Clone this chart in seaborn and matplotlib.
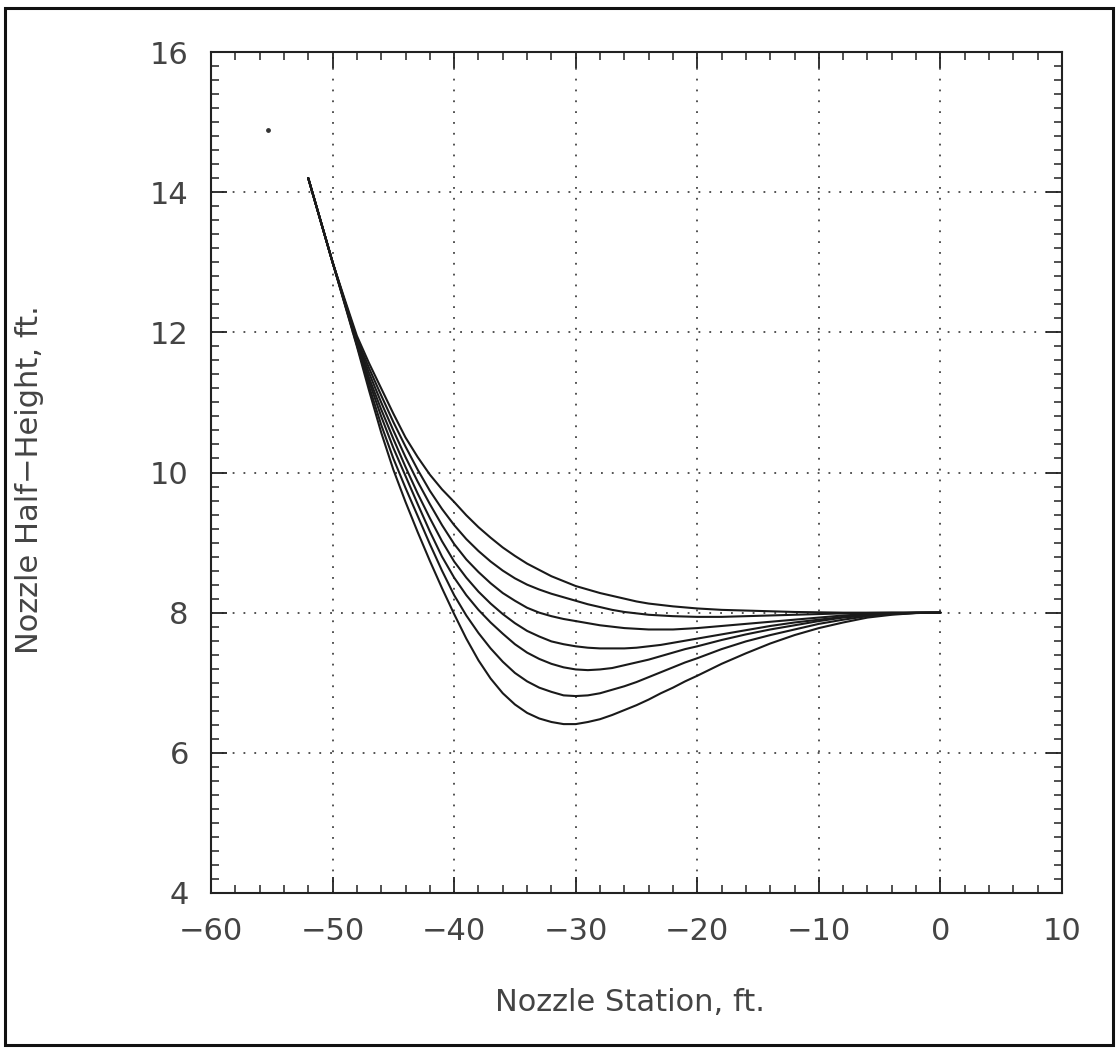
import numpy as np
import pandas as pd
import matplotlib
matplotlib.use("Agg")
import matplotlib.pyplot as plt
from matplotlib.ticker import MultipleLocator
from matplotlib.patches import Rectangle
import seaborn as sns

# ---- data ----
station = [-52, -51, -50, -49, -48, -47, -46, -45, -44, -43, -42, -41, -40, -39, -38,
           -37, -36, -35, -34, -33, -32, -31, -30, -29, -28, -27, -26, -25, -24, -23,
           -22, -21, -20, -18, -16, -14, -12, -10, -8, -6, -4, -2, 0]

curve_1 = [14.2, 13.6, 13.0, 12.40, 11.80, 11.17, 10.57, 10.04, 9.58, 9.15, 8.74, 8.35, 7.98,
           7.63, 7.32, 7.06, 6.85, 6.69, 6.57, 6.49, 6.44, 6.41, 6.41, 6.44, 6.48, 6.54, 6.61,
           6.68, 6.76, 6.85, 6.93, 7.02, 7.10,
           7.27, 7.42, 7.56, 7.68, 7.78, 7.86, 7.93, 7.97, 7.995, 8.0]
curve_2 = [14.2, 13.6, 13.0, 12.41, 11.82, 11.23, 10.68, 10.20, 9.78, 9.38, 8.98, 8.60, 8.25,
           7.96, 7.71, 7.49, 7.30, 7.14, 7.02, 6.93, 6.87, 6.82, 6.81, 6.82, 6.85, 6.90, 6.95,
           7.01, 7.08, 7.15, 7.22, 7.29, 7.35,
           7.48, 7.59, 7.68, 7.76, 7.84, 7.90, 7.95, 7.98, 7.995, 8.0]
curve_3 = [14.2, 13.6, 13.0, 12.42, 11.84, 11.30, 10.80, 10.35, 9.95, 9.55, 9.16, 8.80, 8.50,
           8.25, 8.04, 7.86, 7.70, 7.55, 7.43, 7.34, 7.27, 7.22, 7.19, 7.18, 7.19, 7.21, 7.25,
           7.29, 7.33, 7.38, 7.43, 7.48, 7.52,
           7.61, 7.69, 7.76, 7.82, 7.88, 7.93, 7.96, 7.985, 7.997, 8.0]
curve_4 = [14.2, 13.6, 13.0, 12.43, 11.86, 11.35, 10.90, 10.48, 10.08, 9.70, 9.35, 9.02, 8.73,
           8.50, 8.30, 8.13, 7.98, 7.85, 7.74, 7.66, 7.59, 7.55, 7.52, 7.50, 7.49, 7.49, 7.49,
           7.50, 7.52, 7.54, 7.57, 7.60, 7.63,
           7.69, 7.75, 7.81, 7.86, 7.90, 7.94, 7.97, 7.99, 7.998, 8.0]
curve_5 = [14.2, 13.6, 13.0, 12.44, 11.88, 11.42, 11.00, 10.60, 10.22, 9.87, 9.55, 9.25, 8.98,
           8.76, 8.58, 8.42, 8.28, 8.17, 8.07, 8.00, 7.95, 7.91, 7.88, 7.85, 7.82, 7.80, 7.78,
           7.77, 7.76, 7.76, 7.76, 7.77, 7.78,
           7.81, 7.84, 7.87, 7.90, 7.93, 7.96, 7.98, 7.99, 8.0, 8.0]
curve_6 = [14.2, 13.6, 13.0, 12.45, 11.91, 11.49, 11.10, 10.72, 10.37, 10.04, 9.74, 9.48, 9.25,
           9.05, 8.88, 8.73, 8.60, 8.49, 8.40, 8.33, 8.27, 8.22, 8.17, 8.12, 8.08, 8.04, 8.01,
           7.99, 7.97, 7.96, 7.95, 7.945, 7.94,
           7.94, 7.95, 7.96, 7.97, 7.98, 7.99, 7.995, 8.0, 8.0, 8.0]
curve_7 = [14.2, 13.6, 13.0, 12.47, 11.95, 11.56, 11.20, 10.84, 10.50, 10.22, 9.97, 9.76, 9.58,
           9.39, 9.22, 9.07, 8.93, 8.81, 8.70, 8.61, 8.52, 8.45, 8.38, 8.33, 8.28, 8.24, 8.20,
           8.16, 8.13, 8.11, 8.09, 8.075, 8.06,
           8.04, 8.03, 8.02, 8.01, 8.005, 8.0, 8.0, 8.0, 8.0, 8.0]

curves = {"1": curve_1, "2": curve_2, "3": curve_3, "4": curve_4,
          "5": curve_5, "6": curve_6, "7": curve_7}

stray_x = [-55.3]
stray_y = [14.88]

x_ticks = [-60, -50, -40, -30, -20, -10, 0, 10]
y_ticks = [4, 6, 8, 10, 12, 14, 16]

# ---- figure ----
sns.set_theme(style="white")
plt.rcParams["font.family"] = ["DejaVu Sans"]

W, H = 1119, 1053
fig = plt.figure(figsize=(W / 100, H / 100), dpi=100)
ax = fig.add_axes([211 / W, 1 - 893 / H, (1062 - 211) / W, (893 - 52) / H])

df = pd.DataFrame(
    [(k, xv, yv) for k, ys in curves.items() for xv, yv in zip(station, ys)],
    columns=["curve", "x", "y"],
)
sns.lineplot(data=df, x="x", y="y", units="curve", estimator=None, sort=False,
             color="#1a1a1a", linewidth=1.5, ax=ax, legend=False)
ax.scatter(stray_x, stray_y, s=6, color="#333333", zorder=3)

ax.set_xlim(-60, 10)
ax.set_ylim(4, 16)
ax.set_xticks(x_ticks)
ax.set_yticks(y_ticks)
ax.set_xticklabels([f"\u2212{abs(v)}" if v < 0 else str(v) for v in x_ticks])
ax.set_yticklabels([str(v) for v in y_ticks])
ax.xaxis.set_minor_locator(MultipleLocator(2))
ax.yaxis.set_minor_locator(MultipleLocator(0.2))

ax.tick_params(which="both", direction="in", top=True, right=True,
               bottom=True, left=True, color="#222222")
ax.tick_params(which="major", length=11.5, width=1.3, labelsize=22,
               labelcolor="#444444")
ax.tick_params(axis="x", which="major", pad=17)
ax.tick_params(axis="y", which="major", pad=16)
ax.tick_params(which="minor", length=5.5, width=1.1)

ax.grid(True, which="major", color="#444444", linestyle=(0, (1, 5)), linewidth=1.3)
for s in ax.spines.values():
    s.set_visible(True)
    s.set_color("#222222")
    s.set_linewidth(1.5)

ax.set_xlabel("Nozzle Station, ft.", fontsize=22, color="#444444")
ax.set_ylabel("Nozzle Half\u2212Height, ft.", fontsize=22, color="#444444")
ax.xaxis.set_label_coords(0.492, -0.113)
ax.yaxis.set_label_coords(-0.196, 0.491)

# outer frame
fig.patches.append(Rectangle((5 / W, 8 / H), (1113 - 5) / W, (1045 - 8) / H,
                             transform=fig.transFigure, fill=False,
                             edgecolor="#111111", linewidth=2.2))

fig.savefig("out.png", dpi=100, facecolor="white")
